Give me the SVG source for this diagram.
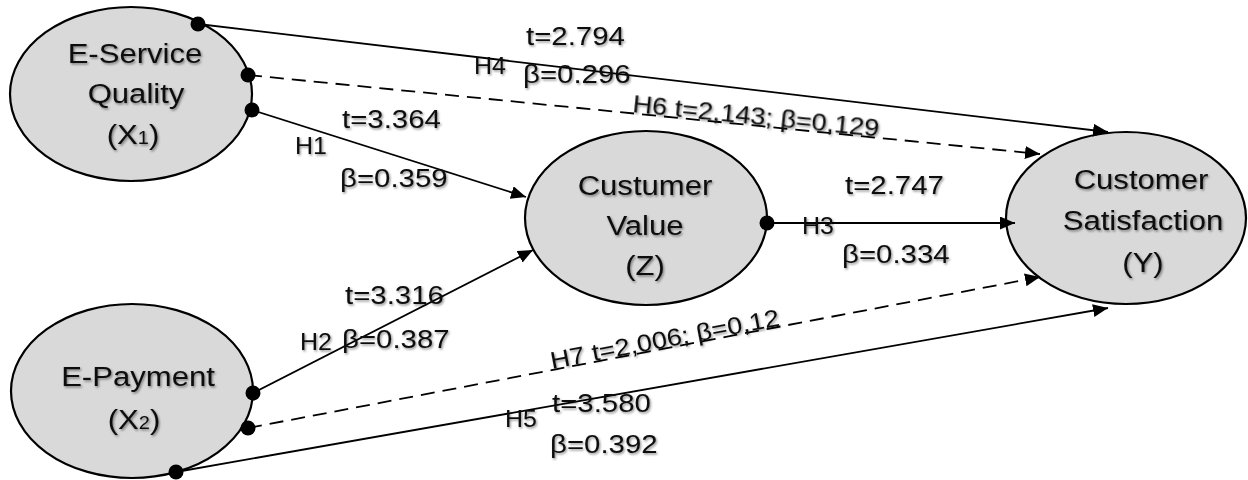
<svg xmlns="http://www.w3.org/2000/svg" width="1248" height="480" viewBox="0 0 1248 480">
<style>
.node{fill:#d9d9d9;stroke:#000;stroke-width:2.2}
.nt{font-family:"Liberation Sans",Arial,sans-serif;font-size:28px;fill:#111;text-anchor:middle}
.lb{font-family:"Liberation Sans",Arial,sans-serif;font-size:26px;fill:#111}
.hl{font-family:"Liberation Sans",Arial,sans-serif;font-size:24px;fill:#111}
.rl{font-family:"Liberation Sans",Arial,sans-serif;font-size:24px;fill:#111}
.ln{fill:none;stroke:#000;stroke-width:1.8}
.dash{stroke-dasharray:14 8}
.dot{fill:#000}
</style>
<defs>
<marker id="arr" markerUnits="userSpaceOnUse" markerWidth="16" markerHeight="14" refX="15" refY="6.5" orient="auto">
<path d="M0,0 L15,6.5 L0,13 z" fill="#000"/>
</marker>
<filter id="sh" x="-10%" y="-20%" width="130%" height="150%">
<feDropShadow dx="1.2" dy="1.5" stdDeviation="1" flood-color="#000" flood-opacity="0.45"/>
</filter>
</defs>
<g id="nodes">
<g id="x1">
<ellipse class="node" cx="131" cy="94" rx="121" ry="87"/>
<g filter="url(#sh)">
<text class="nt" transform="translate(135,63) scale(1.11,1)">E-Service</text>
<text class="nt" transform="translate(136,103) scale(1.11,1)">Quality</text>
<text class="nt" transform="translate(133,144) scale(1.11,1)">(X<tspan font-size="18">1</tspan>)</text>
</g>
</g>
<g id="x2">
<ellipse class="node" cx="132" cy="391" rx="121" ry="87"/>
<g filter="url(#sh)">
<text class="nt" transform="translate(138,386) scale(1.11,1)">E-Payment</text>
<text class="nt" transform="translate(134,429) scale(1.11,1)">(X<tspan font-size="18">2</tspan>)</text>
</g>
</g>
<g id="z">
<ellipse class="node" cx="646" cy="218" rx="121" ry="87"/>
<g filter="url(#sh)">
<text class="nt" transform="translate(645,195) scale(1.11,1)">Custumer</text>
<text class="nt" transform="translate(645,235) scale(1.11,1)">Value</text>
<text class="nt" transform="translate(645,275) scale(1.11,1)">(Z)</text>
</g>
</g>
<g id="y">
<ellipse class="node" cx="1126" cy="218" rx="120" ry="86"/>
<g filter="url(#sh)">
<text class="nt" transform="translate(1141,189) scale(1.11,1)">Customer</text>
<text class="nt" transform="translate(1143,230) scale(1.11,1)">Satisfaction</text>
<text class="nt" transform="translate(1143,272) scale(1.11,1)">(Y)</text>
</g>
</g>
</g>
<g id="connectors">
<line class="ln" x1="198" y1="24" x2="1108" y2="132" marker-end="url(#arr)"/>
<line class="ln dash" x1="248" y1="75" x2="1040" y2="154" marker-end="url(#arr)"/>
<line class="ln" x1="252" y1="110" x2="526" y2="197" marker-end="url(#arr)"/>
<line class="ln" x1="253" y1="393" x2="533" y2="250" marker-end="url(#arr)"/>
<line class="ln" x1="767" y1="223" x2="1015" y2="223" marker-end="url(#arr)"/>
<line class="ln dash" x1="248" y1="428" x2="1040" y2="277" marker-end="url(#arr)"/>
<line class="ln" x1="176" y1="472" x2="1108" y2="308" marker-end="url(#arr)"/>
<circle class="dot" cx="198" cy="24" r="7.5"/>
<circle class="dot" cx="248" cy="75" r="7.5"/>
<circle class="dot" cx="252" cy="110" r="7.5"/>
<circle class="dot" cx="253" cy="393" r="7.5"/>
<circle class="dot" cx="248" cy="428" r="7.5"/>
<circle class="dot" cx="176" cy="472" r="7.5"/>
<circle class="dot" cx="767" cy="223" r="7.5"/>
</g>
<g id="labels" filter="url(#sh)">
<text class="lb" transform="translate(526,45) scale(1.13,1)">t=2.794</text>
<text class="hl" transform="translate(474,74) scale(1.04,1)">H4</text>
<text class="lb" transform="translate(523,83) scale(1.13,1)">β=0.296</text>
<text class="rl" transform="translate(632,112) rotate(5.7) scale(1.13,1)">H6 t=2,143; β=0,129</text>
<text class="lb" transform="translate(342,128) scale(1.13,1)">t=3.364</text>
<text class="hl" transform="translate(295,154) scale(1.04,1)">H1</text>
<text class="lb" transform="translate(340,187) scale(1.13,1)">β=0.359</text>
<text class="lb" transform="translate(845,194) scale(1.13,1)">t=2.747</text>
<text class="hl" transform="translate(802,234) scale(1.04,1)">H3</text>
<text class="lb" transform="translate(842,263) scale(1.13,1)">β=0.334</text>
<text class="lb" transform="translate(345,304) scale(1.13,1)">t=3.316</text>
<text class="hl" transform="translate(300,350) scale(1.04,1)">H2</text>
<text class="lb" transform="translate(342,348) scale(1.13,1)">β=0.387</text>
<text class="rl" transform="translate(552,369) rotate(-10.8) scale(1.13,1)">H7 t=2,006; β=0,12</text>
<text class="lb" transform="translate(552,412) scale(1.13,1)">t=3.580</text>
<text class="hl" transform="translate(505,427) scale(1.04,1)">H5</text>
<text class="lb" transform="translate(550,453) scale(1.13,1)">β=0.392</text>
</g>
</svg>
